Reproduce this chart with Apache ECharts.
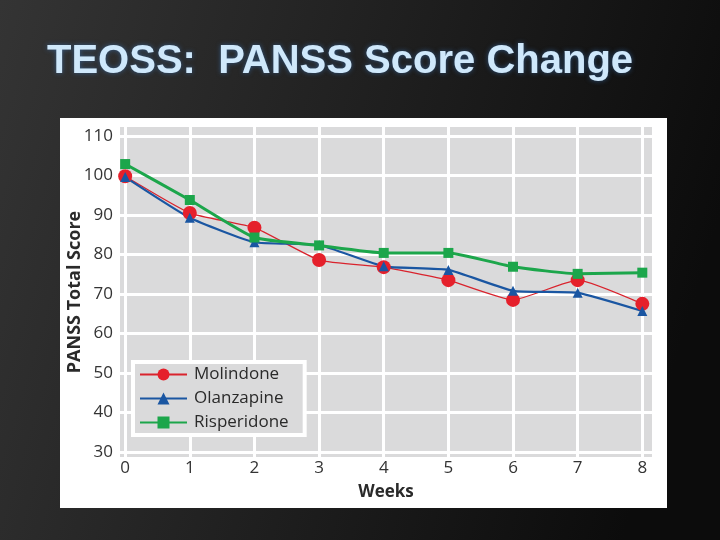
<!DOCTYPE html>
<html>
<head>
<meta charset="utf-8">
<script src="https://cdn.jsdelivr.net/npm/echarts@6/dist/echarts.min.js"></script>
<style>
    html, body { margin: 0; padding: 0; background: #1c1c1c; }
    #chart { width: 720px; height: 540px; }
</style>
</head>
<body>
<div id="chart"></div>
<script>
    // 数据
    var weeks = [0, 1, 2, 3, 4, 5, 6, 7, 8];
    var molindone = [99.8, 90.5, 86.8, 78.6, 76.8, 73.5, 68.5, 73.5, 67.5];
    var olanzapine = [99.6, 89.3, 83.1, 82.4, 77.0, 76.1, 70.8, 70.3, 65.7];
    var risperidone = [102.9, 93.8, 84.3, 82.3, 80.4, 80.4, 76.9, 75.1, 75.4];
    var yTicks = [30, 40, 50, 60, 70, 80, 90, 100, 110];
    var xTicks = [0, 1, 2, 3, 4, 5, 6, 7, 8];

    function pairs(values) {
        return weeks.map(function (w, i) { return [w, values[i]]; });
    }

    var labelFont = '"Open Sans", "Noto Sans", sans-serif';

    var chart = echarts.init(document.getElementById('chart'));
    var option = {
        animation: false,
        backgroundColor: {
            type: 'linear', x: 0, y: 0, x2: 1, y2: 0.4,
            colorStops: [
                {offset: 0, color: '#343434'},
                {offset: 0.6, color: '#1c1c1c'},
                {offset: 1, color: '#0c0c0c'}
            ]
        },
        title: {
            text: 'TEOSS:  PANSS Score Change',
            left: 42,
            top: 37,
            textStyle: {
                fontFamily: '"Liberation Sans", Arial, sans-serif',
                fontSize: 40,
                fontWeight: 'bold',
                color: '#cfe8fb',
                textShadowColor: 'rgba(60,120,190,0.6)',
                textShadowBlur: 5
            }
        },
        graphic: [
            {   // 白色底板
                type: 'rect',
                z: -10,
                silent: true,
                shape: {x: 60, y: 118, width: 607, height: 390},
                style: {fill: '#ffffff'}
            }
        ],
        grid: {
            left: 120,
            right: 68,
            top: 127,
            bottom: 83,
            show: true,
            backgroundColor: '#dadadb',
            borderWidth: 0
        },
        legend: {
            orient: 'vertical',
            left: 133,
            top: 362,
            padding: [4, 16, 4, 6],
            itemWidth: 47,
            itemHeight: 15,
            itemGap: 7,
            backgroundColor: '#dadadb',
            borderColor: '#ffffff',
            borderWidth: 4,
            textStyle: {
                fontFamily: labelFont,
                fontSize: 17,
                color: '#2a2a2a',
                padding: [0, 0, 0, 2]
            },
            data: ['Molindone', 'Olanzapine', 'Risperidone']
        },
        xAxis: {
            type: 'value',
            min: -0.08,
            max: 8.15,
            name: 'Weeks',
            nameLocation: 'middle',
            nameGap: 27,
            nameMoveOverlap: false,
            nameTextStyle: {
                fontFamily: labelFont,
                fontSize: 17,
                fontWeight: 'bold',
                color: '#2a2a2a',
                verticalAlign: 'top'
            },
            axisLine: {show: false},
            axisTick: {show: false, customValues: xTicks},
            axisLabel: {
                customValues: xTicks,
                margin: 3,
                fontFamily: labelFont,
                fontSize: 17,
                color: '#333'
            },
            splitLine: {show: true, lineStyle: {color: '#ffffff', width: 3}}
        },
        yAxis: {
            type: 'value',
            min: 28.73,
            max: 112.28,
            name: 'PANSS Total Score',
            nameLocation: 'middle',
            nameRotate: 90,
            nameGap: 36,
            nameMoveOverlap: false,
            nameTextStyle: {
                fontFamily: labelFont,
                fontSize: 18,
                fontWeight: 'bold',
                color: '#2a2a2a'
            },
            axisLine: {show: false},
            axisTick: {show: false, customValues: yTicks},
            axisLabel: {
                customValues: yTicks,
                margin: 7,
                fontFamily: labelFont,
                fontSize: 17,
                color: '#333'
            },
            splitLine: {show: true, lineStyle: {color: '#ffffff', width: 3}}
        },
        series: [
            {
                name: 'Molindone',
                type: 'line',
                data: pairs(molindone),
                smooth: 0.15,
                symbol: 'circle',
                symbolSize: 14,
                color: '#e5202b',
                lineStyle: {width: 1.3, color: '#d9232d'}
            },
            {
                name: 'Olanzapine',
                type: 'line',
                data: pairs(olanzapine),
                smooth: 0.15,
                symbol: 'triangle',
                symbolSize: 10,
                color: '#1a56a2',
                lineStyle: {width: 2.2}
            },
            {
                name: 'Risperidone',
                type: 'line',
                data: pairs(risperidone),
                smooth: 0.15,
                symbol: 'rect',
                symbolSize: 10,
                color: '#1ca64b',
                lineStyle: {width: 3}
            }
        ]
    };
    option && chart.setOption(option);
</script>
</body>
</html>
